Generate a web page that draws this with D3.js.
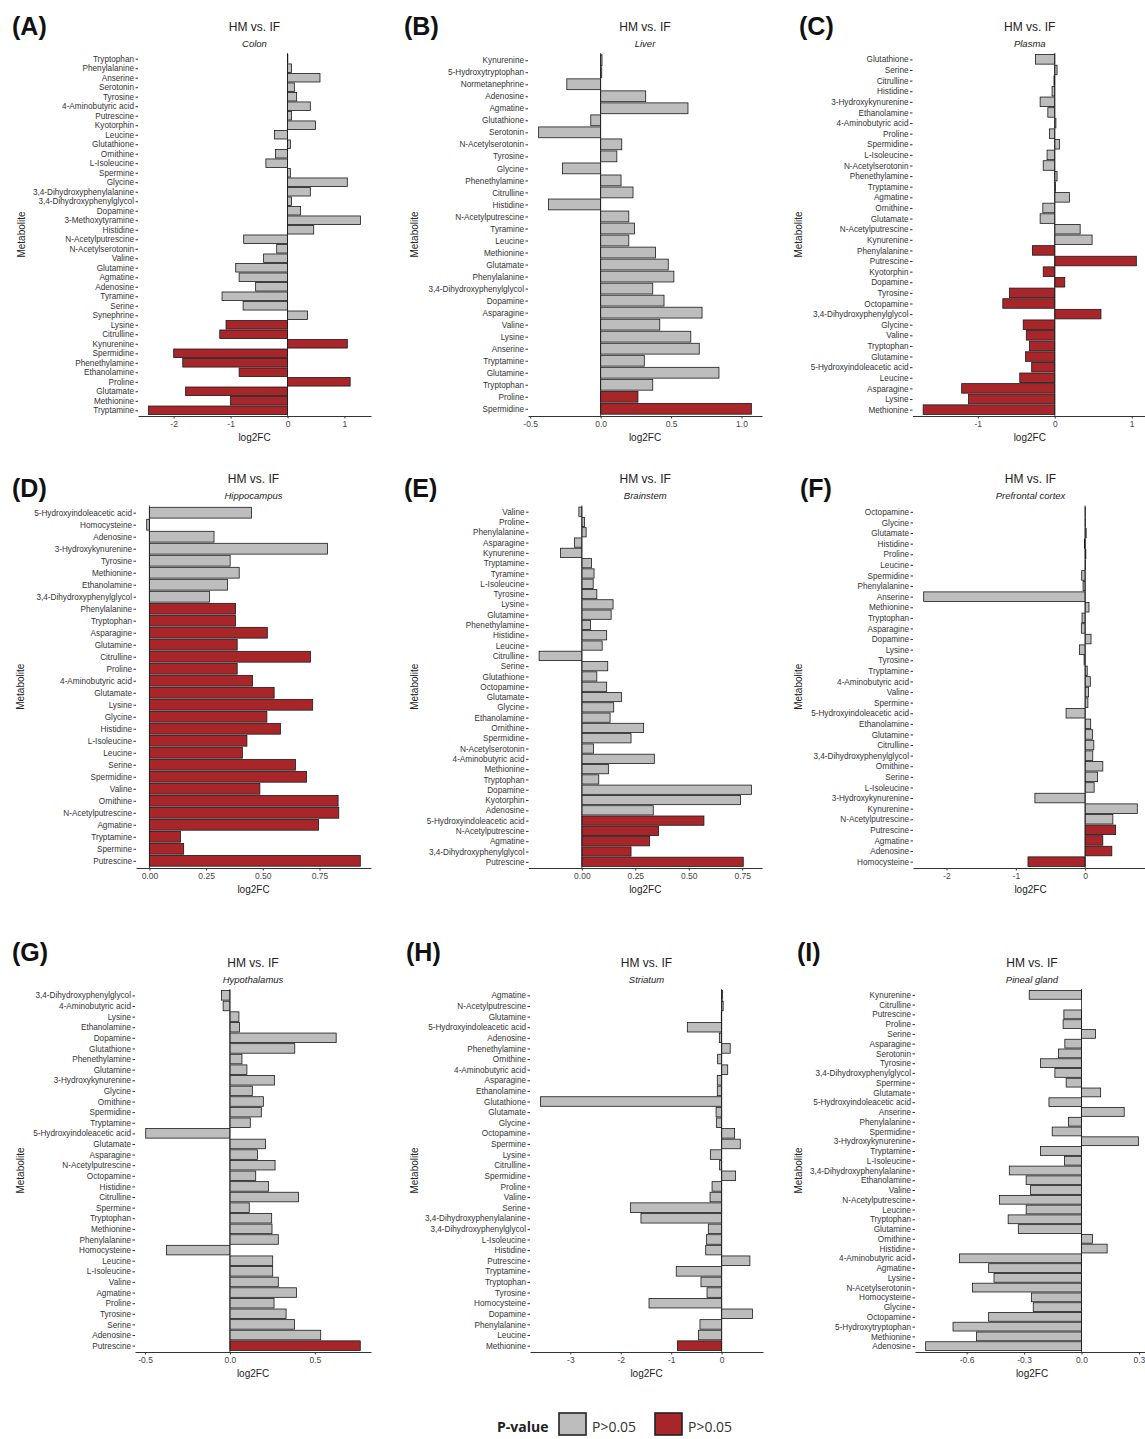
<!DOCTYPE html>
<html>
<head>
<meta charset="utf-8">
<script src="https://cdn.jsdelivr.net/npm/d3@7.9.0/dist/d3.min.js"></script>
<style>
  body { margin: 0; background: #fff; }
  svg { display: block; font-family: "Liberation Sans", Arial, sans-serif; }
</style>
</head>
<body>
<svg id="chart" width="1145" height="1439"></svg>
<script>
// ---- data: metabolite order (top to bottom) and log2FC per tissue ----
const colonNames = ["Tryptophan","Phenylalanine","Anserine","Serotonin","Tyrosine","4-Aminobutyric acid","Putrescine","Kyotorphin","Leucine","Glutathione","Ornithine","L-Isoleucine","Spermine","Glycine","3,4-Dihydroxyphenylalanine","3,4-Dihydroxyphenylglycol","Dopamine","3-Methoxytyramine","Histidine","N-Acetylputrescine","N-Acetylserotonin","Valine","Glutamine","Agmatine","Adenosine","Tyramine","Serine","Synephrine","Lysine","Citrulline","Kynurenine","Spermidine","Phenethylamine","Ethanolamine","Proline","Glutamate","Methionine","Tryptamine"];
const colonFC = [0.005,0.07,0.57,0.12,0.16,0.40,0.07,0.49,-0.23,0.05,-0.21,-0.38,0.05,1.05,0.40,0.07,0.23,1.28,0.46,-0.77,-0.19,-0.42,-0.91,-0.85,-0.56,-1.15,-0.78,0.35,-1.08,-1.19,1.05,-2.0,-1.84,-0.85,1.10,-1.79,-1.0,-2.44];

const liverNames = ["Kynurenine","5-Hydroxytryptophan","Normetanephrine","Adenosine","Agmatine","Glutathione","Serotonin","N-Acetylserotonin","Tyrosine","Glycine","Phenethylamine","Citrulline","Histidine","N-Acetylputrescine","Tyramine","Leucine","Methionine","Glutamate","Phenylalanine","3,4-Dihydroxyphenylglycol","Dopamine","Asparagine","Valine","Lysine","Anserine","Tryptamine","Glutamine","Tryptophan","Proline","Spermidine"];
const liverFC = [0.01,0.008,-0.24,0.32,0.62,-0.07,-0.44,0.15,0.115,-0.27,0.145,0.23,-0.37,0.20,0.24,0.20,0.39,0.48,0.52,0.37,0.45,0.72,0.42,0.64,0.70,0.31,0.84,0.37,0.265,1.07];

const plasmaNames = ["Glutathione","Serine","Citrulline","Histidine","3-Hydroxykynurenine","Ethanolamine","4-Aminobutyric acid","Proline","Spermidine","L-Isoleucine","N-Acetylserotonin","Phenethylamine","Tryptamine","Agmatine","Ornithine","Glutamate","N-Acetylputrescine","Kynurenine","Phenylalanine","Putrescine","Kyotorphin","Dopamine","Tyrosine","Octopamine","3,4-Dihydroxyphenylglycol","Glycine","Valine","Tryptophan","Glutamine","5-Hydroxyindoleacetic acid","Leucine","Asparagine","Lysine","Methionine"];
const plasmaFC = [-0.25,0.03,-0.01,-0.035,-0.19,-0.09,0.015,-0.07,0.06,-0.10,-0.15,0.03,0.01,0.19,-0.155,-0.19,0.33,0.485,-0.29,1.06,-0.15,0.13,-0.59,-0.675,0.60,-0.41,-0.37,-0.33,-0.38,-0.30,-0.455,-1.21,-1.12,-1.71];

const hippoNames = ["5-Hydroxyindoleacetic acid","Homocysteine","Adenosine","3-Hydroxykynurenine","Tyrosine","Methionine","Ethanolamine","3,4-Dihydroxyphenylglycol","Phenylalanine","Tryptophan","Asparagine","Glutamine","Citrulline","Proline","4-Aminobutyric acid","Glutamate","Lysine","Glycine","Histidine","L-Isoleucine","Leucine","Serine","Spermidine","Valine","Ornithine","N-Acetylputrescine","Agmatine","Tryptamine","Spermine","Putrescine"];
const hippoFC = [0.45,-0.012,0.285,0.785,0.356,0.396,0.344,0.265,0.38,0.38,0.52,0.387,0.71,0.387,0.455,0.55,0.72,0.518,0.578,0.43,0.41,0.644,0.693,0.487,0.832,0.835,0.746,0.137,0.151,0.93];

const brainNames = ["Valine","Proline","Phenylalanine","Asparagine","Kynurenine","Tryptamine","Tyramine","L-Isoleucine","Tyrosine","Lysine","Glutamine","Phenethylamine","Histidine","Leucine","Citrulline","Serine","Glutathione","Octopamine","Glutamate","Glycine","Ethanolamine","Ornithine","Spermidine","N-Acetylserotonin","4-Aminobutyric acid","Methionine","Tryptophan","Dopamine","Kyotorphin","Adenosine","5-Hydroxyindoleacetic acid","N-Acetylputrescine","Agmatine","3,4-Dihydroxyphenylglycol","Putrescine"];
const brainFC = [-0.014,0.012,0.02,-0.034,-0.10,0.045,0.057,0.053,0.07,0.146,0.137,0.04,0.116,0.095,-0.20,0.121,0.07,0.116,0.185,0.149,0.132,0.289,0.23,0.054,0.339,0.124,0.079,0.793,0.742,0.334,0.571,0.359,0.317,0.23,0.755];

const pfcNames = ["Octopamine","Glycine","Glutamate","Histidine","Proline","Leucine","Spermidine","Phenylalanine","Anserine","Methionine","Tryptophan","Asparagine","Dopamine","Lysine","Tyrosine","Tryptamine","4-Aminobutyric acid","Valine","Spermine","5-Hydroxyindoleacetic acid","Ethanolamine","Glutamine","Citrulline","3,4-Dihydroxyphenylglycol","Ornithine","Serine","L-Isoleucine","3-Hydroxykynurenine","Kynurenine","N-Acetylputrescine","Putrescine","Agmatine","Adenosine","Homocysteine"];
const pfcFC = [0.002,0.003,0.015,-0.01,0.01,0.005,-0.05,-0.03,-2.33,0.055,-0.045,-0.055,0.085,-0.08,-0.015,0.03,0.075,0.05,0.04,-0.275,0.08,0.105,0.125,0.11,0.255,0.18,0.13,-0.725,0.753,0.40,0.44,0.255,0.385,-0.825];

const hypoNames = ["3,4-Dihydroxyphenylglycol","4-Aminobutyric acid","Lysine","Ethanolamine","Dopamine","Glutathione","Phenethylamine","Glutamine","3-Hydroxykynurenine","Glycine","Ornithine","Spermidine","Tryptamine","5-Hydroxyindoleacetic acid","Glutamate","Asparagine","N-Acetylputrescine","Octopamine","Histidine","Citrulline","Spermine","Tryptophan","Methionine","Phenylalanine","Homocysteine","Leucine","L-Isoleucine","Valine","Agmatine","Proline","Tyrosine","Serine","Adenosine","Putrescine"];
const hypoFC = [-0.05,-0.04,0.053,0.057,0.626,0.382,0.071,0.10,0.262,0.132,0.197,0.185,0.12,-0.496,0.21,0.163,0.266,0.152,0.228,0.404,0.114,0.246,0.248,0.285,-0.374,0.252,0.252,0.285,0.392,0.26,0.331,0.38,0.535,0.768];

const striNames = ["Agmatine","N-Acetylputrescine","Glutamine","5-Hydroxyindoleacetic acid","Adenosine","Phenethylamine","Ornithine","4-Aminobutyric acid","Asparagine","Ethanolamine","Glutathione","Glutamate","Glycine","Octopamine","Spermine","Lysine","Citrulline","Spermidine","Proline","Valine","Serine","3,4-Dihydroxyphenylalanine","3,4-Dihydroxyphenylglycol","L-Isoleucine","Histidine","Putrescine","Tryptamine","Tryptophan","Tyrosine","Homocysteine","Dopamine","Phenylalanine","Leucine","Methionine"];
const striFC = [0.02,0.03,-0.007,-0.68,-0.046,0.17,-0.08,0.12,-0.086,-0.086,-3.59,-0.11,-0.105,0.257,0.37,-0.224,-0.04,0.277,-0.19,-0.23,-1.81,-1.6,-0.264,-0.3,-0.316,0.56,-0.9,-0.41,-0.29,-1.44,0.61,-0.43,-0.46,-0.877];

const pinealNames = ["Kynurenine","Citrulline","Putrescine","Proline","Serine","Asparagine","Serotonin","Tyrosine","3,4-Dihydroxyphenylglycol","Spermine","Glutamate","5-Hydroxyindoleacetic acid","Anserine","Phenylalanine","Spermidine","3-Hydroxykynurenine","Tryptamine","L-Isoleucine","3,4-Dihydroxyphenylalanine","Ethanolamine","Valine","N-Acetylputrescine","Leucine","Tryptophan","Glutamine","Ornithine","Histidine","4-Aminobutyric acid","Agmatine","Lysine","N-Acetylserotonin","Homocysteine","Glycine","Octopamine","5-Hydroxytryptophan","Methionine","Adenosine"];
const pinealFC = [-0.273,0.0,-0.092,-0.096,0.073,-0.087,-0.12,-0.214,-0.139,-0.08,0.10,-0.17,0.223,-0.068,-0.153,0.297,-0.214,-0.089,-0.377,-0.289,-0.266,-0.428,-0.289,-0.383,-0.33,0.057,0.134,-0.637,-0.485,-0.457,-0.569,-0.261,-0.252,-0.485,-0.671,-0.548,-0.814];

// number of significant (red) bars, always at the bottom of each panel
const redCounts = [10, 2, 16, 22, 5, 4, 1, 1, 0];
const tissues = ["Colon","Liver","Plasma","Hippocampus","Brainstem","Prefrontal cortex","Hypothalamus","Striatum","Pineal gland"];
const tags = ["(A)","(B)","(C)","(D)","(E)","(F)","(G)","(H)","(I)"];
const tickLabels = [
  ["-2","-1","0","1"], ["-0.5","0.0","0.5","1.0"], ["-1","0","1"],
  ["0.00","0.25","0.50","0.75"], ["0.00","0.25","0.50","0.75"], ["-2","-1","0"],
  ["-0.5","0.0","0.5"], ["-3","-2","-1","0"], ["-0.6","-0.3","0.0","0.3"]
];
const legendLabels = ["P>0.05", "P>0.05"];

// ---- layout ----
const greyFill = "#bdbdbd", redFill = "#a8262a";
const rows = [
  { top: 53, bottom: 416, title: 31, tagY: 35 },
  { top: 505.5, bottom: 868, title: 483, tagY: 497 },
  { top: 989, bottom: 1352, title: 967, tagY: 961 }
];
// plot x-extent per panel, y-axis-title x, tag x
const cols = [
  [138, 371, 22, 12], [528, 762, 415, 404], [912.5, 1147, 799, 799],
  [136, 371, 21, 12], [528.5, 762, 415, 404], [913, 1148, 799, 800],
  [135, 371, 21, 12], [530, 763, 415, 406], [915, 1149, 799, 797]
];
const allNames = [colonNames, liverNames, plasmaNames, hippoNames, brainNames, pfcNames, hypoNames, striNames, pinealNames];
const allFC = [colonFC, liverFC, plasmaFC, hippoFC, brainFC, pfcFC, hypoFC, striFC, pinealFC];

const svg = d3.select("#chart");

allNames.forEach((names, i) => {
  const fc = allFC[i];
  const row = rows[Math.floor(i / 3)];
  const [x0, x1, ytX, tagX] = cols[i];
  const g = svg.append("g");

  let lo = Math.min(0, d3.min(fc)), hi = Math.max(0, d3.max(fc));
  const pad = (hi - lo) * 0.05;
  const x = d3.scaleLinear().domain([lo - pad, hi + pad]).range([x0, x1]);
  const y = d3.scalePoint().domain(d3.range(names.length)).range([row.top, row.bottom]).padding(0.6);
  const bh = y.step() * 0.9;
  const firstRed = names.length - redCounts[i];

  // bars
  g.selectAll("rect.bar").data(fc).join("rect")
    .attr("class", "bar")
    .attr("x", (d) => x(Math.min(0, d)))
    .attr("width", (d) => Math.abs(x(d) - x(0)))
    .attr("y", (d, j) => y(j) - bh / 2)
    .attr("height", bh)
    .attr("fill", (d, j) => (j >= firstRed ? redFill : greyFill))
    .attr("stroke", "#1a1a1a")
    .attr("stroke-width", 0.8);

  // zero line
  g.append("line")
    .attr("x1", x(0)).attr("x2", x(0))
    .attr("y1", row.top).attr("y2", row.bottom)
    .attr("stroke", "#1a1a1a").attr("stroke-width", 0.8);

  // x axis
  const xAxis = d3.axisBottom(x)
    .tickValues(tickLabels[i].map((t) => +t))
    .tickFormat((d, k) => tickLabels[i][k])
    .tickSize(2.5).tickPadding(2).tickSizeOuter(0);
  const gx = g.append("g").attr("transform", `translate(0,${row.bottom})`).call(xAxis);
  gx.select(".domain").attr("stroke", "#333").attr("stroke-width", 1);
  gx.selectAll(".tick line").attr("stroke", "#333");
  gx.selectAll(".tick text").attr("fill", "#444").attr("font-size", 8.5)
    .attr("font-family", "Liberation Sans, Arial, sans-serif");

  // y axis
  const yAxis = d3.axisLeft(y).tickFormat((j) => names[j]).tickSize(2.5).tickPadding(1.5);
  const gy = g.append("g").attr("transform", `translate(${x0},0)`).call(yAxis);
  gy.select(".domain").remove();
  gy.selectAll(".tick line").attr("stroke", "#333");
  gy.selectAll(".tick text").attr("fill", "#333").attr("font-size", 8.2)
    .attr("font-family", "Liberation Sans, Arial, sans-serif");

  // titles
  const cx = (x0 + x1) / 2;
  g.append("text").attr("x", cx).attr("y", row.title).attr("text-anchor", "middle")
    .attr("font-size", 12).attr("fill", "#222").text("HM vs. IF");
  g.append("text").attr("x", cx).attr("y", row.title + 16).attr("text-anchor", "middle")
    .attr("font-size", 9.5).attr("font-style", "italic").attr("fill", "#222").text(tissues[i]);
  g.append("text").attr("x", cx).attr("y", row.bottom + 25).attr("text-anchor", "middle")
    .attr("font-size", 10).attr("fill", "#222").text("log2FC");
  g.append("text")
    .attr("transform", `translate(${ytX + 3},${(row.top + row.bottom) / 2}) rotate(-90)`)
    .attr("text-anchor", "middle").attr("font-size", 10).attr("fill", "#222").text("Metabolite");

  // panel tag
  g.append("text").attr("x", tagX).attr("y", row.tagY)
    .attr("font-size", 25).attr("font-weight", "bold").attr("fill", "#111").text(tags[i]);
});

// legend
const lg = svg.append("g").attr("font-family", "Open Sans, Liberation Sans, sans-serif");
lg.append("text").attr("x", 497).attr("y", 1432).attr("font-size", 14).attr("font-weight", "bold").attr("fill", "#222").text("P-value");
[greyFill, redFill].forEach((c, k) => {
  const bx = 559 + k * 96;
  lg.append("rect").attr("x", bx).attr("y", 1413).attr("width", 27).attr("height", 22)
    .attr("fill", c).attr("stroke", "#222").attr("stroke-width", 1.6);
  lg.append("text").attr("x", bx + 33).attr("y", 1432).attr("font-size", 14).attr("fill", "#333").text(legendLabels[k]);
});
</script>
</body>
</html>
